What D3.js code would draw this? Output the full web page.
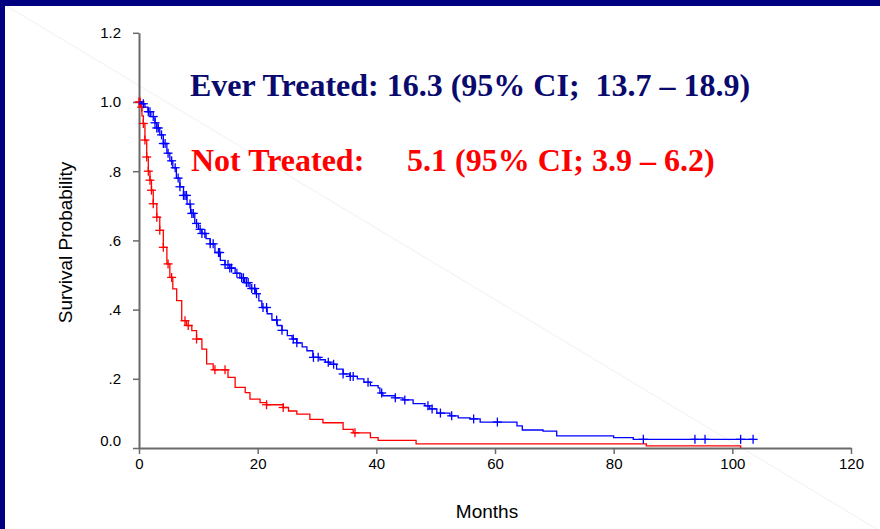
<!DOCTYPE html>
<html>
<head>
<meta charset="utf-8">
<script src="https://cdn.jsdelivr.net/npm/d3@7"></script>
<style>
  html, body { margin: 0; padding: 0; background: #ffffff; }
  svg { display: block; }
  text { white-space: pre; }
</style>
</head>
<body>
<svg id="chart" width="880" height="529"></svg>
<script>
// ---- data ----
const xTicks = [0, 20, 40, 60, 80, 100, 120];
const yTicks = [0, 0.2, 0.4, 0.6, 0.8, 1.0, 1.2];
const yTickLabels = ["0.0", ".2", ".4", ".6", ".8", "1.0", "1.2"];

// Ever Treated KM step points (months, survival)
const everTime = [0,0.5,1.0,1.5,2.0,2.7,3.0,3.5,4.1,4.7,5.2,5.7,6.3,6.9,7.5,8.1,8.7,9.4,10.0,10.6,11.3,12.0,12.8,13.7,14.5,15.3,16.2,17.0,17.8,18.7,19.6,20.2,20.7,21.6,22.4,23.3,24.1,25.0,25.8,26.6,27.5,28.3,29.3,30.5,31.4,32.2,33.3,34.4,35.5,36.8,37.9,39.0,40.3,40.6,41.1,43.2,44.5,46.2,48.2,49.0,50.2,52.4,53.8,55.8,57.5,63.7,64.6,68.1,70.4,80.0,83.3,103.5];
const everSurv = [1.0,0.995,0.985,0.972,0.958,0.940,0.925,0.905,0.880,0.852,0.830,0.810,0.780,0.755,0.730,0.705,0.678,0.649,0.632,0.620,0.605,0.590,0.565,0.542,0.530,0.520,0.505,0.492,0.478,0.461,0.446,0.425,0.406,0.388,0.370,0.354,0.340,0.325,0.315,0.304,0.292,0.281,0.262,0.255,0.248,0.242,0.228,0.214,0.207,0.200,0.190,0.180,0.174,0.159,0.151,0.145,0.139,0.128,0.122,0.113,0.101,0.093,0.087,0.084,0.075,0.064,0.052,0.049,0.035,0.030,0.025,0.025];
const everCensor = [0.73,1.57,1.85,2.4,2.7,3.0,3.25,3.8,4.1,4.4,4.9,5.5,6.1,6.6,6.9,7.5,7.75,8.0,8.6,8.9,9.15,9.7,10.3,10.6,11.1,12.0,12.5,13.4,13.6,14.5,15.0,15.3,15.6,16.5,17.3,17.6,18.1,18.4,19.0,19.5,19.8,20.9,21.5,23.2,24.1,26.0,26.6,29.4,30.2,31.9,32.8,34.4,35.6,36.1,38.6,40.9,43.2,44.8,48.7,49.4,50.8,52.7,56.4,60.4,85.0,93.7,95.4,101.4,103.5];

// Not Treated KM step points
const notTime = [0,0.3,0.5,0.73,1.0,1.3,1.57,1.85,2.1,2.4,3.0,3.5,4.1,4.7,5.2,5.7,6.35,7.2,8.0,8.9,9.7,10.6,11.4,12.5,15.0,16.2,17.9,18.7,20.4,21.5,24.3,25.2,26.6,28.8,31.0,34.4,36.1,39.0,40.3,46.7,85.5,101.4,101.4];
const notSurv = [1.0,0.985,0.960,0.938,0.890,0.841,0.800,0.774,0.745,0.706,0.667,0.629,0.580,0.532,0.493,0.460,0.426,0.368,0.354,0.339,0.315,0.286,0.243,0.226,0.204,0.175,0.160,0.141,0.131,0.125,0.117,0.107,0.098,0.083,0.073,0.054,0.044,0.030,0.022,0.012,0.006,0.006,0.0];
const notCensor = [0,0.2,0.45,0.73,1.0,1.3,1.57,1.85,2.1,2.4,3.0,3.5,4.1,4.9,5.5,7.75,8.3,9.7,12.8,14.5,21.5,24.3,36.4];

const titleEver = "Ever Treated: 16.3 (95% CI;  13.7 \u2013 18.9)";
const titleNotA = "Not Treated:";
const titleNotB = "5.1 (95% CI; 3.9 \u2013 6.2)";

// ---- drawing ----
const W = 880, H = 529;
const svg = d3.select("#chart");

// background + frame
svg.append("rect").attr("x",0).attr("y",0).attr("width",W).attr("height",H).attr("fill","#ffffff");
svg.append("line").attr("x1",0).attr("y1",2).attr("x2",W).attr("y2",531)
   .attr("stroke","#ececec").attr("stroke-width",0.8);
svg.append("rect").attr("x",0).attr("y",0).attr("width",W).attr("height",6).attr("fill","#000080");
svg.append("rect").attr("x",0).attr("y",0).attr("width",5).attr("height",H).attr("fill","#000080");

const x = d3.scaleLinear().domain([0,120]).range([139,851]);
const y = d3.scaleLinear().domain([0,1.2]).range([448,32.8]);

// axes
const gx = svg.append("g").attr("transform",`translate(0,${y(0)})`)
  .call(d3.axisBottom(x).tickValues(xTicks).tickSize(6).tickSizeOuter(0).tickPadding(4).tickFormat(d3.format("d")));
const gy = svg.append("g").attr("transform",`translate(${x(0)},0)`)
  .call(d3.axisLeft(y).tickValues(yTicks).tickSize(6).tickSizeOuter(0).tickPadding(12)
    .tickFormat((d,i)=>yTickLabels[i]));
[gx,gy].forEach(g=>{
  g.select(".domain").attr("stroke","#6a6a6a").attr("stroke-width",2);
  g.selectAll(".tick line").attr("stroke","#6a6a6a").attr("stroke-width",1.5);
  g.selectAll(".tick text").attr("fill","#000").style("font-family","'Liberation Sans', Arial, sans-serif").style("font-size","15px");
});
gy.selectAll(".tick text").filter(d=>d===0).attr("dy","-0.15em");

// axis titles
svg.append("text").attr("x",487).attr("y",518).attr("text-anchor","middle")
  .style("font-family","'Liberation Sans', Arial, sans-serif").style("font-size","19px").attr("fill","#000").text("Months");
svg.append("text").attr("transform","translate(72,242.5) rotate(-90)").attr("text-anchor","middle")
  .style("font-family","'Liberation Sans', Arial, sans-serif").style("font-size","19px").attr("fill","#000").text("Survival Probability");

// curves
function series(times, survs){ return times.map((t,i)=>({t, s: survs[i]})); }
function stepAt(data, t){
  let v = data[0].s;
  for (const d of data){ if (d.t <= t) v = d.s; else break; }
  return v;
}
const line = d3.line().x(d=>x(d.t)).y(d=>y(d.s)).curve(d3.curveStepAfter);

const groups = [
  {data: series(notTime, notSurv), censor: notCensor, color: "#ff0000"},
  {data: series(everTime, everSurv), censor: everCensor, color: "#0000ff"}
];
groups.forEach(g=>{
  svg.append("path").datum(g.data).attr("d",line).attr("fill","none")
    .attr("stroke",g.color).attr("stroke-width",1.3);
  const cg = svg.append("g").attr("stroke",g.color).attr("stroke-width",1.3);
  g.censor.forEach(t=>{
    const cx = x(t), cy = y(stepAt(g.data,t));
    cg.append("line").attr("x1",cx-4.5).attr("x2",cx+4.5).attr("y1",cy).attr("y2",cy);
    cg.append("line").attr("x1",cx).attr("x2",cx).attr("y1",cy-4.5).attr("y2",cy+4.5);
  });
});

// annotations
svg.append("text").attr("x",190).attr("y",96)
  .style("font-family","'Liberation Serif', 'Times New Roman', serif").style("font-size","32px").style("font-weight","bold")
  .attr("fill","#0a0a6e").text(titleEver);
const t2 = svg.append("text").attr("y",171)
  .style("font-family","'Liberation Serif', 'Times New Roman', serif").style("font-size","32px").style("font-weight","bold")
  .attr("fill","#ff0000");
t2.append("tspan").attr("x",191).text(titleNotA);
t2.append("tspan").attr("x",407).text(titleNotB);
</script>
</body>
</html>
